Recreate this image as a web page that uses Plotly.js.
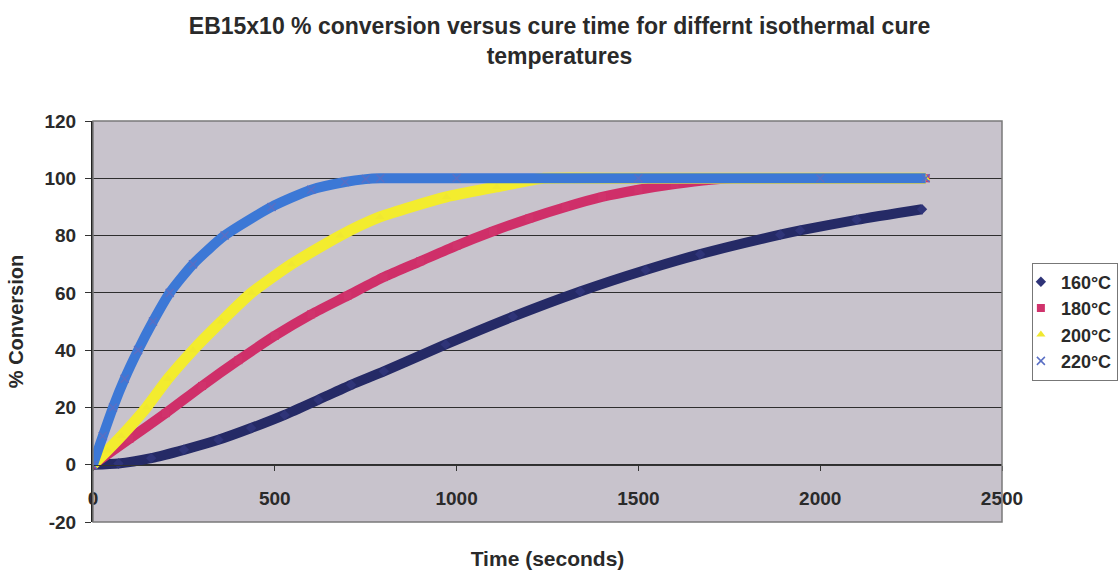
<!DOCTYPE html>
<html>
<head>
<meta charset="utf-8">
<script src="https://cdn.plot.ly/plotly-3.0.1.min.js"></script>
<style>html,body{margin:0;padding:0;background:#fff;}#chart{width:1119px;height:570px;}</style>
</head>
<body>
<div id="chart"></div>
<script>
// Series names
var seriesNames = ["160°C", "180°C", "200°C", "220°C"];

// 160°C
var t160 = [0, 70, 160, 250, 345, 435, 527, 620, 710, 800, 970, 1155, 1340, 1520, 1670, 1890, 1945, 2100, 2280];
var c160 = [0, 0.4, 2.3, 5.2, 8.7, 12.8, 17.4, 22.7, 27.9, 32.6, 42, 51.7, 60.5, 68.0, 73.5, 80.3, 81.8, 85.5, 89.2];

// 180°C
var t180 = [0, 100, 200, 300, 400, 500, 600, 700, 800, 900, 1000, 1100, 1200, 1300, 1400, 1500, 1600, 1700, 1760, 2000, 2290];
var c180 = [0, 9, 18, 27.5, 36.5, 45, 52.5, 59, 65.5, 71, 76.5, 81.5, 86, 90, 93.5, 96, 98, 99.5, 100, 100, 100];

// 200°C
var t200 = [0, 40, 78, 147, 206, 275, 353, 436, 546, 680, 789, 972, 1110, 1210, 1240, 1500, 2000, 2290];
var c200 = [0, 5, 10, 20, 30, 40, 50, 60, 70, 80, 86.5, 93.5, 97, 99.5, 100, 100, 100, 100];

// 220°C
var t220 = [0, 27, 55, 87, 124, 165, 211, 275, 362, 491, 600, 693, 750, 790, 1000, 1500, 2000, 2290];
var c220 = [0, 10, 20, 30, 40, 50, 60, 70, 80, 90, 96, 98.7, 99.7, 100, 100, 100, 100, 100];

var xTicks = [0, 500, 1000, 1500, 2000, 2500];
var yTicks = [-20, 0, 20, 40, 60, 80, 100, 120];

var xs = [t160, t180, t200, t220];
var ys = [c160, c180, c200, c220];
var lineColors = ["#252a66", "#cf2f69", "#f3ec2e", "#3c78d6"];
var markerColors = ["#2f3478", "#d0336c", "#f0e830", "#5a6fc4"];
var symbols = ["diamond", "square", "triangle-up", "x-thin"];
var widths = [10, 10, 11, 10];

var data = [];
for (var i = 0; i < 4; i++) {
  data.push({
    type: "scatter", mode: "lines", x: xs[i], y: ys[i],
    name: seriesNames[i], legendgroup: "g" + i, showlegend: false,
    line: {color: lineColors[i], width: widths[i], shape: "spline", smoothing: 0.6},
    hoverinfo: "skip"
  });
  var mk = {symbol: symbols[i], size: 8, color: markerColors[i]};
  if (symbols[i] === "x-thin") { mk.line = {color: markerColors[i], width: 1.5}; }
  data.push({
    type: "scatter", mode: "markers", x: xs[i], y: ys[i],
    name: seriesNames[i], legendgroup: "g" + i, showlegend: true,
    marker: mk
  });
}

var font = "Arial, 'Liberation Sans', sans-serif";
var layout = {
  width: 1119, height: 570,
  margin: {l: 93, r: 117, t: 121, b: 48, autoexpand: false},
  paper_bgcolor: "#ffffff",
  plot_bgcolor: "#c8c3cc",
  font: {family: font, color: "#2a2a2a", size: 16},
  title: {
    text: "<b>EB15x10 % conversion versus cure time for differnt isothermal cure<br>temperatures</b>",
    x: 0.5, xref: "container", xanchor: "center",
    y: 0.94, yref: "container", yanchor: "top",
    font: {family: font, size: 23, color: "#2a2a2a"}
  },
  xaxis: {
    range: [0, 2500], tickvals: xTicks, ticktext: xTicks.map(String),
    anchor: "free", position: 20 / 140,
    showline: true, linecolor: "#333", linewidth: 1.5,
    ticks: "outside", ticklen: 5, tickcolor: "#333",
    ticklabelstandoff: 11,
    showgrid: false, zeroline: false, automargin: false,
    tickfont: {family: font, size: 19, color: "#2a2a2a", weight: "bold"},
    title: {text: "<b>Time (seconds)</b>", font: {family: font, size: 21, color: "#2a2a2a"}, standoff: 46}
  },
  yaxis: {
    range: [-20, 120], tickvals: yTicks, ticktext: yTicks.map(String),
    showline: true, linecolor: "#222", linewidth: 2,
    ticks: "outside", ticklen: 6, tickcolor: "#333",
    ticklabelstandoff: 5,
    showgrid: true, gridcolor: "#2e2e2e", gridwidth: 1,
    zeroline: false, automargin: false,
    tickfont: {family: font, size: 19, color: "#2a2a2a", weight: "bold"},
    title: {text: "<b>% Conversion</b>", font: {family: font, size: 20, color: "#2a2a2a"}, standoff: 15}
  },
  legend: {
    xref: "container", x: 0.999, xanchor: "right", y: 0.5, yanchor: "middle",
    bgcolor: "#ffffff", bordercolor: "#777", borderwidth: 1,
    font: {family: font, size: 18, color: "#2a2a2a", weight: "bold"},
    itemwidth: 30, tracegroupgap: 0, indentation: -12
  },
  shapes: [{
    type: "rect", xref: "paper", yref: "paper", x0: 0, x1: 1, y0: 0, y1: 1,
    line: {color: "#7a7a7a", width: 1.5}, fillcolor: "rgba(0,0,0,0)", layer: "above"
  }],
  showlegend: true
};

Plotly.newPlot("chart", data, layout, {displayModeBar: false, staticPlot: true});
</script>
</body>
</html>
